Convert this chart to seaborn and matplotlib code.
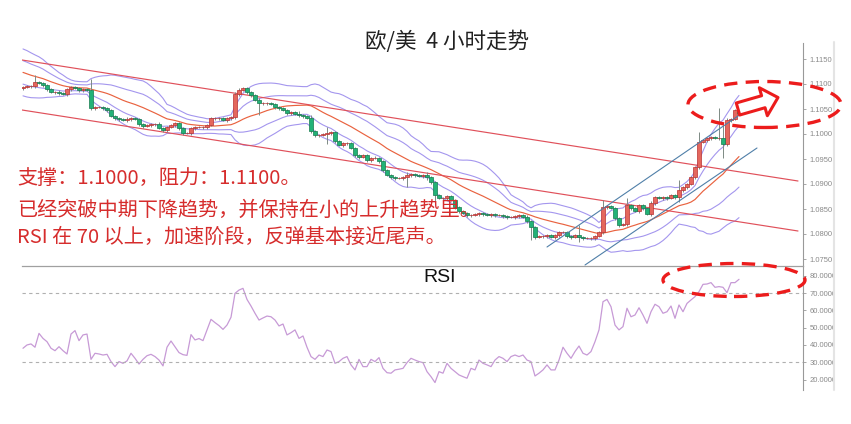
import numpy as np
import pandas as pd

import matplotlib
matplotlib.use("Agg")
import matplotlib.pyplot as plt
from matplotlib.patches import Ellipse, FancyArrowPatch, Rectangle, ArrowStyle
from matplotlib.lines import Line2D
import seaborn as sns


# -----------------------
# Data (EUR/USD 4H)
# -----------------------
# bars before the visible window, only used to seed the Bollinger bands
WARMUP_CLOSES = [1.1152, 1.1154, 1.1148, 1.1144, 1.1148, 1.1152, 1.1146, 1.1140, 1.1136, 1.1128,
                 1.1124, 1.1116, 1.1108, 1.1100, 1.1096, 1.1092, 1.1098, 1.1096, 1.1092]

FIRST_OPEN = 1.1092

CLOSES = [
    1.1094, 1.1096, 1.1096, 1.1104, 1.1102, 1.1098, 1.1090, 1.1084, 1.1084, 1.1082,
    1.1080, 1.1090, 1.1094, 1.1092, 1.1088, 1.1090, 1.1088, 1.1052, 1.1054, 1.1054,
    1.1052, 1.1048, 1.1036, 1.1032, 1.1030, 1.1028, 1.1030, 1.1032, 1.1030, 1.1020,
    1.1016, 1.1018, 1.1020, 1.1020, 1.1012, 1.1008, 1.1014, 1.1018, 1.1022, 1.1012,
    1.1002, 1.1002, 1.1012, 1.1014, 1.1014, 1.1014, 1.1018, 1.1032, 1.1032, 1.1032,
    1.1028, 1.1032, 1.1034, 1.1080, 1.1088, 1.1092, 1.1084, 1.1078, 1.1068, 1.1062,
    1.1062, 1.1062, 1.1060, 1.1054, 1.1052, 1.1048, 1.1042, 1.1044, 1.1040, 1.1038,
    1.1036, 1.1032, 1.1006, 1.0998, 1.0998, 1.1000, 1.1002, 1.1004, 1.0986, 1.0978,
    1.0982, 1.0982, 1.0972, 1.0958, 1.0954, 1.0958, 1.0948, 1.0952, 1.0952, 1.0946,
    1.0928, 1.0918, 1.0914, 1.0912, 1.0912, 1.0914, 1.0918, 1.0920, 1.0918, 1.0916,
    1.0918, 1.0914, 1.0904, 1.0878, 1.0872, 1.0872, 1.0876, 1.0868, 1.0854, 1.0846,
    1.0842, 1.0838, 1.0838, 1.0840, 1.0842, 1.0840, 1.0838, 1.0840, 1.0838, 1.0838,
    1.0836, 1.0834, 1.0834, 1.0836, 1.0838, 1.0834, 1.0826, 1.0814, 1.0794, 1.0796,
    1.0796, 1.0798, 1.0794, 1.0798, 1.0804, 1.0804, 1.0796, 1.0794, 1.0798, 1.0794,
    1.0792, 1.0792, 1.0792, 1.0796, 1.0804, 1.0854, 1.0856, 1.0852, 1.0832, 1.0818,
    1.0820, 1.0858, 1.0852, 1.0846, 1.0858, 1.0852, 1.0840, 1.0862, 1.0874, 1.0872,
    1.0874, 1.0872, 1.0878, 1.0874, 1.0888, 1.0894, 1.0900, 1.0914, 1.0934, 1.0984,
    1.0988, 1.0992, 1.0994, 1.0992, 1.0992, 1.0980, 1.1028, 1.1030, 1.1048, 1.1042,
]

# wick lengths beyond the body, in pips
WICK_UP = [
    3, 2, 3, 14, 3, 2, 3, 2, 3, 4, 3, 3, 2, 3, 3, 2, 3, 22, 3, 2,
    3, 2, 3, 3, 2, 3, 4, 2, 3, 3, 2, 3, 3, 2, 4, 3, 3, 2, 3, 3,
    2, 3, 3, 2, 3, 3, 2, 3, 3, 2, 3, 3, 2, 4, 4, 3, 2, 3, 3, 4,
    3, 2, 3, 3, 2, 3, 3, 2, 3, 6, 3, 2, 6, 3, 3, 2, 12, 3, 3, 2,
    3, 3, 2, 3, 3, 2, 3, 3, 4, 3, 2, 3, 3, 2, 3, 3, 6, 3, 3, 2,
    3, 6, 3, 3, 2, 3, 3, 2, 3, 3, 2, 3, 3, 2, 3, 3, 2, 3, 3, 2,
    3, 3, 2, 3, 3, 2, 4, 3, 3, 2, 3, 3, 2, 3, 3, 2, 3, 3, 2, 20,
    3, 2, 3, 3, 3, 14, 3, 2, 3, 3, 2, 14, 3, 3, 2, 3, 3, 4, 3, 2,
    3, 3, 2, 3, 20, 3, 3, 2, 3, 20, 3, 3, 2, 3, 60, 26, 4, 3, 3, 3,
]
WICK_DN = [
    3, 2, 3, 3, 2, 3, 3, 2, 3, 3, 2, 3, 3, 2, 3, 3, 2, 4, 3, 2,
    3, 3, 2, 3, 3, 2, 3, 3, 2, 3, 3, 2, 3, 3, 2, 3, 3, 2, 3, 3,
    3, 2, 3, 3, 2, 3, 3, 2, 3, 3, 2, 3, 3, 3, 3, 2, 3, 3, 2, 24,
    3, 3, 2, 3, 3, 2, 3, 3, 2, 3, 3, 2, 4, 3, 3, 2, 20, 3, 3, 2,
    3, 3, 2, 3, 3, 2, 3, 3, 2, 3, 3, 2, 3, 3, 2, 3, 20, 3, 3, 2,
    3, 6, 3, 14, 2, 3, 3, 2, 3, 3, 2, 3, 3, 2, 3, 3, 2, 3, 3, 2,
    3, 3, 2, 3, 3, 2, 3, 26, 3, 2, 3, 3, 2, 3, 3, 2, 3, 3, 2, 10,
    3, 2, 3, 3, 2, 3, 3, 2, 3, 3, 2, 3, 3, 2, 3, 3, 2, 3, 3, 2,
    3, 3, 2, 3, 10, 3, 3, 2, 3, 3, 2, 3, 3, 2, 3, 28, 3, 3, 2, 3,
]

RSI = [
    38.1, 40.0, 40.6, 38.7, 46.7, 43.8, 41.9, 38.1, 36.7, 39.0,
    36.7, 34.8, 46.3, 48.3, 42.5, 45.8, 46.3, 31.7, 35.2, 34.8,
    34.2, 34.6, 30.4, 27.5, 30.4, 29.4, 30.8, 35.2, 32.3, 29.0,
    31.7, 33.8, 34.6, 33.3, 31.3, 27.9, 38.7, 42.3, 39.0, 35.6,
    34.4, 34.0, 46.0, 42.9, 43.7, 42.5, 48.7, 54.8, 52.9, 51.2,
    49.0, 51.5, 56.0, 69.8, 71.7, 72.7, 66.3, 62.5, 58.3, 54.4,
    55.6, 56.7, 56.3, 54.4, 51.0, 52.1, 45.8, 47.1, 48.7, 43.8,
    45.2, 38.7, 33.3, 31.7, 34.2, 33.3, 37.1, 36.2, 29.4, 30.4,
    32.3, 33.3, 28.5, 25.6, 31.7, 27.5, 27.5, 31.7, 30.4, 32.7,
    26.5, 24.0, 23.7, 25.6, 26.0, 26.5, 29.8, 32.3, 31.3, 30.4,
    29.8, 24.6, 21.7, 18.3, 24.6, 23.7, 29.4, 26.5, 24.6, 22.7,
    21.7, 20.8, 26.5, 25.6, 31.3, 29.4, 28.5, 27.5, 31.3, 33.3,
    32.3, 30.4, 33.3, 34.2, 33.3, 34.2, 31.3, 30.4, 22.1, 23.7,
    25.6, 28.5, 25.6, 25.6, 31.3, 38.7, 35.2, 32.3, 36.2, 39.4,
    35.2, 34.2, 36.2, 41.9, 48.7, 65.0, 66.3, 62.1, 51.5, 48.7,
    50.6, 61.2, 56.3, 57.3, 61.5, 57.3, 52.5, 59.2, 63.5, 62.1,
    58.3, 59.2, 62.5, 55.4, 63.1, 59.2, 64.0, 66.0, 67.9, 70.8,
    75.0, 75.2, 76.0, 73.3, 73.7, 73.3, 70.2, 76.0, 76.0, 77.9,
]

# hand-drawn trend lines: (bar start, price start, bar end, price end)
RED_CHANNEL = [(-0.25, 1.1148, 193.75, 1.0906), (-0.25, 1.1048, 193.75, 1.0806)]
BLUE_CHANNEL = [(131.0, 1.0774, 183.5, 1.1062), (140.5, 1.0738, 183.5, 1.0972)]

PRICE_TICKS = [1.0750, 1.0800, 1.0850, 1.0900, 1.0950, 1.1000, 1.1050, 1.1100, 1.1150]
RSI_TICKS = [20, 30, 40, 50, 60, 70, 80]
RSI_LEVELS = [30, 70]

TITLE = "欧/美  4 小时走势"
NOTES = ["支撑：1.1000，阻力：1.1100。",
         "已经突破中期下降趋势，并保持在小的上升趋势里。",
         "RSI 在 70 以上，加速阶段，反弹基本接近尾声。"]

# -----------------------
# Derived series
# -----------------------
closes = np.array(CLOSES)
opens = np.concatenate([[FIRST_OPEN], closes[:-1]])
highs = np.maximum(opens, closes) + np.array(WICK_UP) * 1e-4
lows = np.minimum(opens, closes) - np.array(WICK_DN) * 1e-4
idx = np.arange(len(closes))

full = pd.Series(WARMUP_CLOSES + CLOSES)
n0 = len(WARMUP_CLOSES)
ma = full.rolling(20).mean().to_numpy()[n0:]
sd = full.rolling(20).std(ddof=0).to_numpy()[n0:]

# -----------------------
# Figure
# -----------------------
sns.set_theme(style="white")
plt.rcParams["font.family"] = ["Noto Sans CJK SC", "DejaVu Sans"]

W, H = 851, 424
fig = plt.figure(figsize=(W / 100, H / 100), dpi=100)
ax = fig.add_axes([22 / W, 1 - 266 / H, 781 / W, 223 / H])
axr = fig.add_axes([22 / W, 1 - 390 / H, 781 / W, 124 / H])

BB_COLOR = "#a496ee"
for k in (2, 1, -1, -2):
    sns.lineplot(x=idx, y=ma + k * sd, ax=ax, color=BB_COLOR, lw=0.8, zorder=2)
sns.lineplot(x=idx, y=ma, ax=ax, color="#e9623f", lw=0.85, zorder=2)

for x0, p0, x1, p1 in RED_CHANNEL:
    ax.plot([x0, x1], [p0, p1], color="#e0505a", lw=0.85, zorder=2)
for x0, p0, x1, p1 in BLUE_CHANNEL:
    ax.plot([x0, x1], [p0, p1], color="#4f7fa8", lw=0.8, zorder=5)

# candles: red = up, green = down
up = closes >= opens
body = np.abs(closes - opens)
body = np.where(body < 0.00008, 0.00008, body)
ax.vlines(idx, lows, highs, color="#7d8a84", lw=0.7, zorder=3)
ax.bar(idx[up], body[up], bottom=np.minimum(opens, closes)[up], width=0.78,
       color="#e4675d", edgecolor="#b83232", lw=0.5, zorder=4)
ax.bar(idx[~up], body[~up], bottom=np.minimum(opens, closes)[~up], width=0.78,
       color="#22b277", edgecolor="#167a4e", lw=0.5, zorder=4)

ax.set_xlim(-0.25, 195)
ax.set_ylim(1.0736, 1.1182)
ax.set_yticks(PRICE_TICKS)
ax.set_yticklabels([f"{t:.4f}" for t in PRICE_TICKS])

# RSI panel
sns.lineplot(x=idx, y=RSI, ax=axr, color="#c79ad6", lw=0.9)
for lv in RSI_LEVELS:
    axr.axhline(lv, color="#b0b0b0", lw=0.8, ls=(0, (3, 3)))
axr.set_xlim(-0.25, 195)
axr.set_ylim(14, 85.6)
axr.set_yticks(RSI_TICKS)
axr.set_yticklabels([f"{t:.4f}" for t in RSI_TICKS])

for a in (ax, axr):
    a.set_xticks([])
    a.set_xlabel("")
    a.set_ylabel("")
    a.yaxis.tick_right()
    a.tick_params(axis="y", labelsize=5.5, labelcolor="#8a8a8a", color="#999999",
                  length=2, width=0.6, pad=3, labelfontfamily="Liberation Sans")
    for s in ("left", "bottom", "top"):
        a.spines[s].set_visible(False)
    a.spines["right"].set_color("#999999")
    a.spines["right"].set_linewidth(0.8)
axr.spines["top"].set_visible(True)
axr.spines["top"].set_color("#a0a0a0")
axr.spines["top"].set_linewidth(0.9)

# -----------------------
# Texts and annotations
# -----------------------
fig.text(447 / W, 1 - 42 / H, TITLE, ha="center", va="center", fontsize=15.5, color="#222222")
for txt, yy in zip(NOTES, (178, 210, 237.5)):
    fig.text(17 / W, 1 - yy / H, txt, ha="left", va="center", fontsize=14.5, color="#d62c2c")
fig.text(423 / W, 1 - 277 / H, "RSI", ha="left", va="center", fontsize=14,
         family="Liberation Sans", color="#111111")

# the source crops the tick labels at a thin border
fig.add_artist(Rectangle((834 / W, 0), 17 / W, 1, transform=fig.transFigure,
                         fc="white", ec="none", zorder=5))
fig.add_artist(Line2D([833.5 / W] * 2, [1 - 390 / H, 1 - 42 / H], transform=fig.transFigure,
                      color="#e4e4e4", lw=1.5, zorder=5))

for cx, cy, ew, eh in ((764.5, 104.5, 153, 46), (734, 280, 142, 33)):
    fig.add_artist(Ellipse((cx / W, 1 - cy / H), ew / W, eh / H, transform=fig.transFigure,
                           fill=False, ec="#ec1c1c", lw=2.4, ls=(0, (4, 2.5)), zorder=6))

arrow = FancyArrowPatch((738 / W, 1 - 109 / H), (778 / W, 1 - 97.5 / H), transform=fig.transFigure,
                        arrowstyle=ArrowStyle.Simple(head_length=11, head_width=21, tail_width=9),
                        mutation_scale=1, shrinkA=0, shrinkB=0,
                        fc="white", ec="#ec1c1c", lw=2.2, zorder=7)
fig.add_artist(arrow)

fig.savefig("out.png", dpi=100)
plt.close(fig)
